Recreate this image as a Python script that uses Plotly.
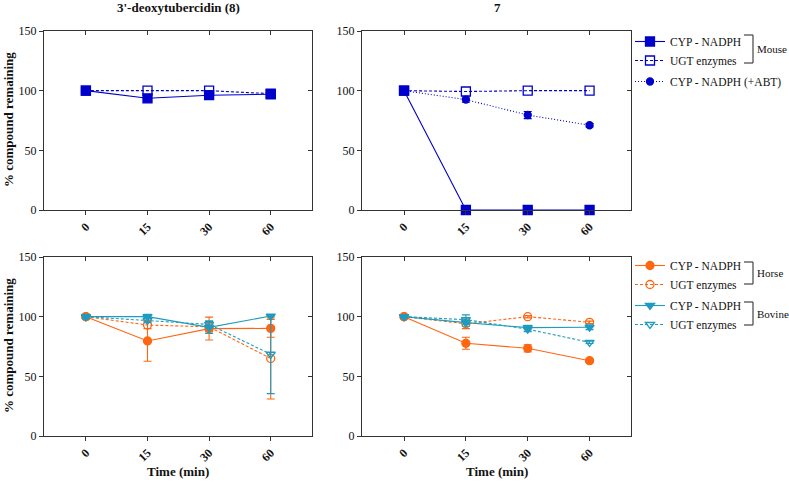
import plotly.graph_objects as go

# ---------------- data ----------------
times = ['0', '15', '30', '60']
panel_titles = ["3'-deoxytubercidin (8)", "7"]
y_ticks = [0, 50, 100, 150]

# Mouse (top row)
deoxy_mouse_cyp = [100, 93.6, 96.2, 97.0]
deoxy_mouse_ugt = [100, 100, 100, 97.5]
c7_mouse_cyp = [100, 0, 0, 0]
c7_mouse_ugt = [100, 99.3, 100, 100]
c7_mouse_abt = [100, 92.5, 79.6, 71.0]
c7_mouse_abt_err = [0, 2.2, 3.0, 1.5]

# Horse / Bovine (bottom row)
deoxy_horse_cyp = [100, 79.6, 90.0, 90.2]
deoxy_horse_cyp_err = [1, 17, 9.6, 7.4]
deoxy_horse_ugt = [100, 93.0, 91.5, 65.0]
deoxy_horse_ugt_err = [1, 3, 4, 34]
deoxy_bovine_cyp = [100, 100, 91, 100.5]
deoxy_bovine_cyp_err = [2, 2, 5, 0]
deoxy_bovine_ugt = [100, 97, 93.5, 68.5]
deoxy_bovine_ugt_err = [1, 2, 3, 33]

c7_horse_cyp = [100, 77.7, 73.5, 63.1]
c7_horse_cyp_err = [1, 5, 3, 1.5]
c7_horse_ugt = [100, 94.0, 100, 95.3]
c7_horse_ugt_err = [1, 4, 1, 1]
c7_bovine_cyp = [100, 95, 90.8, 91.1]
c7_bovine_cyp_err = [1, 3, 2, 2]
c7_bovine_ugt = [100, 97.5, 89.5, 78.5]
c7_bovine_ugt_err = [1, 4, 2, 1]

# ---------------- style ----------------
W, H = 789, 483
BLUE = '#0000CC'
ORANGE = '#FF6611'
TEAL = '#1F9BBF'
SERIF = 'Liberation Serif'
AX = '#333333'

def px_x(p):
    return p / W

def px_y(p):
    return 1 - p / H

xdom = [[px_x(44), px_x(312)], [px_x(362), px_x(631)]]
ydom = [[px_y(210), px_y(31)], [px_y(436), px_y(257)]]
xrange_ = [-0.68, 3.67]

fig = go.Figure()

def add(xa, ya, y, name, color, symbol, dash, err=None, legend=None, show=False, size=8, group=None):
    t = go.Scatter(
        x=times, y=y, name=name, mode='lines+markers',
        xaxis=xa, yaxis=ya, cliponaxis=False,
        line=dict(color=color, width=1.1, dash=dash),
        marker=dict(color=color, symbol=symbol, size=size,
                    line=dict(color=color, width=1.3)),
        showlegend=show,
    )
    if legend:
        t.legend = legend
    if group:
        t.legendgroup = group
    if err is not None:
        t.error_y = dict(type='data', array=err, visible=True, color=color,
                         thickness=1.1, width=4)
    fig.add_trace(t)

# panel 1: top-left
add('x', 'y', deoxy_mouse_cyp, 'CYP - NADPH', BLUE, 'square', 'solid', size=9)
add('x', 'y', deoxy_mouse_ugt, 'UGT enzymes', BLUE, 'square-open', '3px,2px', size=9)
# panel 2: top-right
add('x2', 'y2', c7_mouse_cyp, 'CYP - NADPH', BLUE, 'square', 'solid', legend='legend', show=True,
    group='mouse', size=9)
add('x2', 'y2', c7_mouse_ugt, 'UGT enzymes', BLUE, 'square-open', '3px,2px', legend='legend', show=True,
    group='mouse', size=9)
add('x2', 'y2', c7_mouse_abt, 'CYP - NADPH (+ABT)', BLUE, 'circle', '1px,2px', err=c7_mouse_abt_err,
    legend='legend', show=True, size=7, group='abt')
# panel 3: bottom-left
add('x3', 'y3', deoxy_horse_cyp, 'CYP - NADPH', ORANGE, 'circle', 'solid', err=deoxy_horse_cyp_err)
add('x3', 'y3', deoxy_horse_ugt, 'UGT enzymes', ORANGE, 'circle-open', '3px,2px', err=deoxy_horse_ugt_err)
add('x3', 'y3', deoxy_bovine_cyp, 'CYP - NADPH', TEAL, 'triangle-down', 'solid', err=deoxy_bovine_cyp_err)
add('x3', 'y3', deoxy_bovine_ugt, 'UGT enzymes', TEAL, 'triangle-down-open', '3px,2px', err=deoxy_bovine_ugt_err)
# panel 4: bottom-right
add('x4', 'y4', c7_horse_cyp, 'CYP - NADPH', ORANGE, 'circle', 'solid', err=c7_horse_cyp_err,
    legend='legend2', show=True, group='horse')
add('x4', 'y4', c7_horse_ugt, 'UGT enzymes', ORANGE, 'circle-open', '3px,2px', err=c7_horse_ugt_err,
    legend='legend2', show=True, group='horse')
add('x4', 'y4', c7_bovine_cyp, 'CYP - NADPH', TEAL, 'triangle-down', 'solid', err=c7_bovine_cyp_err,
    legend='legend2', show=True, group='bovine')
add('x4', 'y4', c7_bovine_ugt, 'UGT enzymes', TEAL, 'triangle-down-open', '3px,2px', err=c7_bovine_ugt_err,
    legend='legend2', show=True, group='bovine')

tickfont = dict(family=SERIF, size=12, color='#111111')
layout = dict(
    template='none',
    width=W, height=H, margin=dict(l=0, r=0, t=0, b=0, autoexpand=False),
    paper_bgcolor='white', plot_bgcolor='white',
    font=dict(family=SERIF, size=12, color='#111111'),
)

panels = [(1, 0, 0), (2, 1, 0), (3, 0, 1), (4, 1, 1)]
for i, col, row in panels:
    xs = '' if i == 1 else str(i)
    layout['xaxis' + xs] = dict(
        domain=xdom[col], anchor='y' + xs, type='category', automargin=False,
        categoryorder='array', categoryarray=times, range=xrange_,
        showline=True, linecolor=AX, linewidth=1.2, mirror=True,
        ticks='outside', ticklen=4, tickwidth=1.2, tickcolor=AX,
        tickangle=-45, tickfont=tickfont, showgrid=False, zeroline=False,
        tickprefix='<b>', ticksuffix='</b>',
    )
    layout['yaxis' + xs] = dict(
        domain=ydom[row], anchor='x' + xs, range=[0, 150], automargin=False,
        tickvals=y_ticks, showline=True, linecolor=AX, linewidth=1.2, mirror=True,
        ticks='outside', ticklen=4, tickwidth=1.2, tickcolor=AX,
        tickfont=tickfont, showgrid=False, zeroline=False,
        tickprefix='<b>', ticksuffix='</b>',
    )
    # inward ticks on top and right borders
    j = i + 4
    layout['xaxis' + str(j)] = dict(
        overlaying='x' + xs, anchor='y' + xs, side='top', range=xrange_, automargin=False,
        tickvals=[0, 1, 2, 3], ticks='inside', ticklen=4, tickwidth=1.2, tickcolor=AX,
        showticklabels=False, showgrid=False, zeroline=False, showline=False,
    )
    layout['yaxis' + str(j)] = dict(
        overlaying='y' + xs, anchor='x' + xs, side='right', range=[0, 150], automargin=False,
        tickvals=y_ticks, ticks='inside', ticklen=4, tickwidth=1.2, tickcolor=AX,
        showticklabels=False, showgrid=False, zeroline=False, showline=False,
    )

legend_common = dict(
    xanchor='left', yanchor='top', bgcolor='rgba(0,0,0,0)',
    font=dict(family=SERIF, size=11.5, color='#111111'),
    itemwidth=30, tracegroupgap=2, traceorder='grouped',
)
layout['legend'] = dict(x=px_x(630), y=px_y(27), **legend_common)
layout['legend2'] = dict(x=px_x(630), y=px_y(251), **legend_common)

fig.update_layout(**layout)

# dummy traces so the overlay tick axes render
for i in range(1, 5):
    j = i + 4
    fig.add_trace(go.Scatter(x=[None], y=[None], xaxis='x' + str(j), yaxis='y' + str(j),
                             showlegend=False, hoverinfo='skip'))

ann = []
title_font = dict(family=SERIF, size=13, color='#111111')
centers = [178, 497]
for c, t in zip(centers, panel_titles):
    ann.append(dict(text='<b>%s</b>' % t, x=px_x(c), y=px_y(8), xref='paper', yref='paper',
                    showarrow=False, font=title_font, xanchor='center', yanchor='middle'))
    ann.append(dict(text='<b>Time (min)</b>', x=px_x(c), y=px_y(471), xref='paper', yref='paper',
                    showarrow=False, font=title_font, xanchor='center', yanchor='middle'))
for yc in [120, 346]:
    ann.append(dict(text='<b>% compound remaining</b>', x=px_x(8), y=px_y(yc), xref='paper',
                    yref='paper', showarrow=False, textangle=-90, font=title_font,
                    xanchor='center', yanchor='middle'))

brackets = [('Mouse', 35, 63), ('Horse', 262, 284), ('Bovine', 302, 325)]
shapes = []
for label, y0, y1 in brackets:
    pts = [(744, y0, 753, y0), (753, y0, 753, y1), (753, y1, 744, y1)]
    for a, b, c, d in pts:
        shapes.append(dict(type='line', xref='paper', yref='paper',
                           x0=px_x(a), y0=px_y(b), x1=px_x(c), y1=px_y(d),
                           line=dict(color='#444444', width=1.2)))
    ann.append(dict(text=label, x=px_x(755), y=px_y((y0 + y1) / 2), xref='paper', yref='paper',
                    showarrow=False, xanchor='left', yanchor='middle',
                    font=dict(family=SERIF, size=11, color='#111111')))

fig.update_layout(annotations=ann, shapes=shapes)
fig.write_html('out.html', config={'displayModeBar': False},
               post_script="document.body.style.margin='0px';document.body.style.overflow='hidden';")
